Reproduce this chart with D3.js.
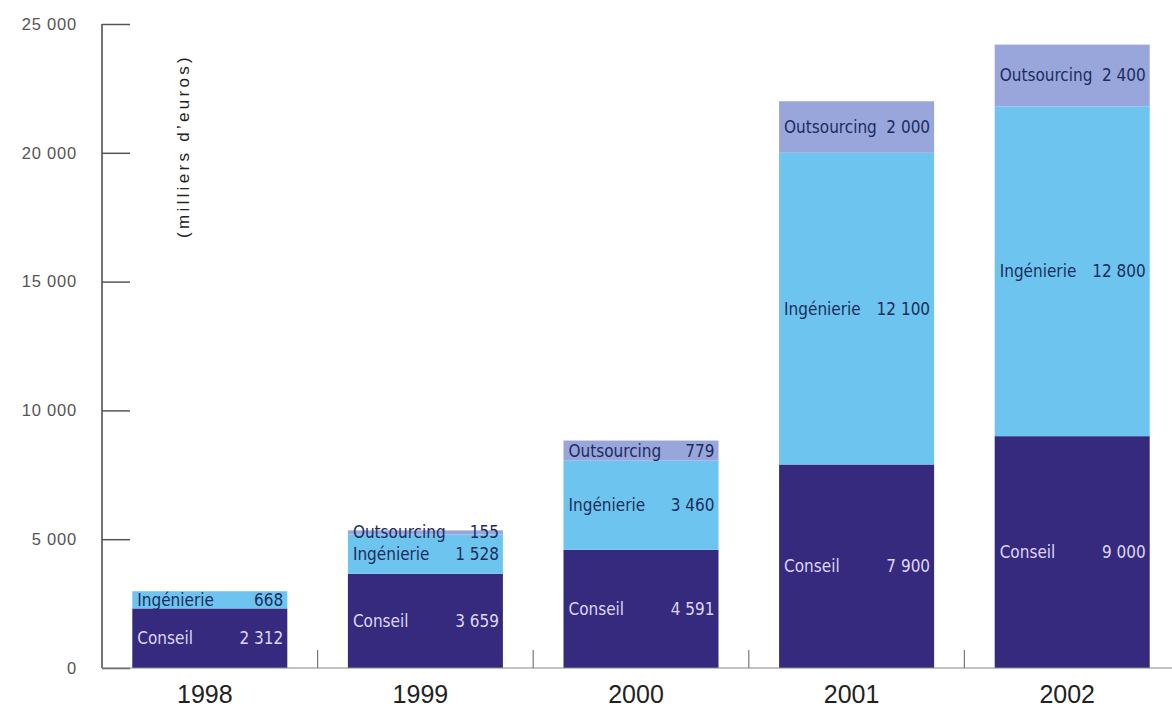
<!DOCTYPE html>
<html lang="fr">
<head>
<meta charset="utf-8">
<script src="https://cdn.jsdelivr.net/npm/d3@7"></script>
<style>
  html, body { margin: 0; padding: 0; background: #ffffff; }
  svg { display: block; }
</style>
</head>
<body>
<svg id="chart" width="1172" height="709"></svg>
<script>
// Chiffre d'affaires par activité (milliers d'euros)
const years = ["1998", "1999", "2000", "2001", "2002"];
const seriesNames = ["Conseil", "Ingénierie", "Outsourcing"];
const conseil     = [2312, 3659, 4591, 7900, 9000];
const ingenierie  = [668, 1528, 3460, 12100, 12800];
const outsourcing = [0, 155, 779, 2000, 2400];
const yTicks = [0, 5000, 10000, 15000, 20000, 25000];
const yTitle = "(milliers d’euros)";

const colors = {
  "Conseil": "#352a7e",
  "Ingénierie": "#6dc5ef",
  "Outsourcing": "#99a6dc"
};
const labelColors = {
  "Conseil": "#ddd6f4",
  "Ingénierie": "#1b2d5c",
  "Outsourcing": "#1b2d5c"
};

const rows = years.map((y, i) => ({
  year: y,
  "Conseil": conseil[i],
  "Ingénierie": ingenierie[i],
  "Outsourcing": outsourcing[i]
}));

const svg = d3.select("#chart");
const x0 = 102, yBase = 668, yTop = 24;

const x = d3.scaleBand().domain(years).range([x0, 1180])
  .paddingInner(0.281).paddingOuter(0.1405);
const y = d3.scaleLinear().domain([0, 25000]).range([yBase, yTop]);

const fmt = v => d3.format(",")(v).replace(/,/g, " ");

const stack = d3.stack().keys(seriesNames)(rows);

// bars
const layers = svg.append("g").selectAll("g").data(stack).join("g")
  .attr("fill", d => colors[d.key]);
layers.selectAll("rect").data(d => d.filter(s => s[1] > s[0]))
  .join("rect")
  .attr("x", d => x(d.data.year))
  .attr("width", x.bandwidth())
  .attr("y", d => y(d[1]))
  .attr("height", d => y(d[0]) - y(d[1]));

// segment labels: name on the left, value on the right
const labelFont = "'DejaVu Sans Condensed', 'Liberation Sans Narrow', 'Roboto Condensed', sans-serif";
stack.forEach(layer => {
  layer.forEach(s => {
    if (s[1] <= s[0]) return;
    const ym = y((s[0] + s[1]) / 2);
    const bx = x(s.data.year);
    const g = svg.append("g")
      .attr("font-family", labelFont)
      .attr("font-size", 17)
      .attr("fill", labelColors[layer.key]);
    g.append("text")
      .attr("x", bx + 5)
      .attr("y", ym)
      .attr("dy", "0.35em")
      .text(layer.key);
    g.append("text")
      .attr("x", bx + x.bandwidth() - 4)
      .attr("y", ym)
      .attr("dy", "0.35em")
      .attr("text-anchor", "end")
      .text(fmt(s.data[layer.key]));
  });
});

// y axis
const yAxis = d3.axisRight(y).tickValues(yTicks).tickSize(28).tickFormat("");
const gy = svg.append("g").attr("transform", `translate(${x0},0)`).call(yAxis);
gy.select(".domain").attr("stroke", "#444").attr("stroke-width", 1.5)
  .attr("d", `M0,${yTop}V${yBase}`);
gy.selectAll(".tick line").attr("stroke", "#555").attr("stroke-width", 1.5);

svg.append("g").selectAll("text").data(yTicks).join("text")
  .attr("x", 77)
  .attr("y", d => y(d))
  .attr("dy", "0.35em")
  .attr("text-anchor", "end")
  .attr("font-family", "'Liberation Sans', Arial, sans-serif")
  .attr("font-size", 16.5)
  .attr("letter-spacing", 0.8)
  .attr("fill", "#555")
  .text(d => fmt(d));

// baseline with separators between years
svg.append("line")
  .attr("x1", x0).attr("x2", 1172)
  .attr("y1", yBase).attr("y2", yBase)
  .attr("stroke", "#888").attr("stroke-width", 1.2);
const seps = years.slice(1).map(yr => x(yr) - x.step() * x.paddingInner() / 2);
svg.append("g").selectAll("line").data(seps).join("line")
  .attr("x1", d => d).attr("x2", d => d)
  .attr("y1", yBase - 18).attr("y2", yBase)
  .attr("stroke", "#777").attr("stroke-width", 1.2);

// year labels
svg.append("g").selectAll("text").data(years).join("text")
  .attr("x", d => x(d) + x.bandwidth() / 2 - 5)
  .attr("y", 703)
  .attr("text-anchor", "middle")
  .attr("font-family", "'Liberation Sans', Arial, sans-serif")
  .attr("font-size", 25)
  .attr("fill", "#222")
  .text(d => d);

// axis title
svg.append("text")
  .attr("transform", "translate(189,146) rotate(-90)")
  .attr("text-anchor", "middle")
  .attr("font-family", "'Liberation Sans', Arial, sans-serif")
  .attr("font-size", 17)
  .attr("letter-spacing", 3.3)
  .attr("fill", "#222")
  .text(yTitle);
</script>
</body>
</html>
